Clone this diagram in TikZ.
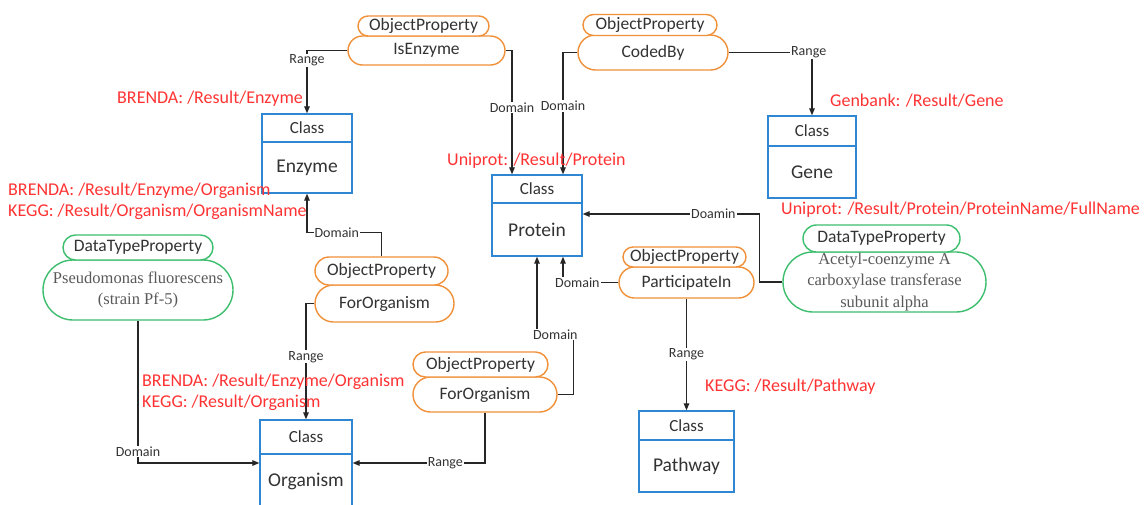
\documentclass[tikz,border=0pt]{standalone}
\usepackage{fontspec}
\setmainfont{Carlito}
\newfontfamily\serifface{Liberation Serif}
\usetikzlibrary{shapes.misc,arrows.meta}

\definecolor{clsblue}{HTML}{2F86D2}
\definecolor{oporange}{HTML}{F0913A}
\definecolor{dtgreen}{HTML}{3DBE6E}
\definecolor{pathred}{HTML}{FF3333}
\definecolor{ink}{HTML}{333333}

\tikzset{
  clshead/.style={draw=clsblue, line width=1.3pt, fill=white, inner sep=0pt,
    text=ink, font=\fontsize{17}{20}\selectfont},
  clsbody/.style={clshead, font=\fontsize{19.5}{23}\selectfont},
  oppill/.style={rounded rectangle, draw=oporange, line width=1.4pt, fill=white,
    inner sep=0pt, text=ink, font=\fontsize{17.5}{21}\selectfont},
  dtpill/.style={oppill, draw=dtgreen},
  seriftext/.style={font=\serifface\fontsize{16.5}{21.5}\selectfont,
    text=black!65, align=center},
  conn/.style={draw=black!85, line width=1.2pt, -{Triangle[length=7pt,width=5.5pt]}},
  lbl/.style={fill=white, inner sep=1pt, font=\fontsize{14}{16}\selectfont, text=ink},
  src/.style={font=\fontsize{18}{21}\selectfont, text=pathred, anchor=west, inner sep=0pt},
}

\begin{document}
\begin{tikzpicture}[x=1pt, y=-1pt]
\path[use as bounding box, fill=white] (0,0) rectangle (1148,504);
\clip (0,0) rectangle (1148,504);

% classes
\node[clshead, minimum width=90pt, minimum height=28pt] (enzh) at (307,128) {Class};
\node[clsbody, minimum width=90pt, minimum height=51pt] (enzb) at (307,167.5) {Enzyme};

\node[clshead, minimum width=90pt, minimum height=28pt] (proth) at (537,189) {Class};
\node[clsbody, minimum width=90pt, minimum height=53pt] (protb) at (537,229.5) {Protein};

\node[clshead, minimum width=88pt, minimum height=30pt] (geneh) at (812,131) {Class};
\node[clsbody, minimum width=88pt, minimum height=52pt] (geneb) at (812,172) {Gene};

\node[clshead, minimum width=92pt, minimum height=34pt] (orgh) at (306,437) {Class};
\node[clsbody, minimum width=92pt, minimum height=54pt] (orgb) at (306,481) {Organism};

\node[clshead, minimum width=95pt, minimum height=29pt] (pathh) at (686.5,425.5) {Class};
\node[clsbody, minimum width=95pt, minimum height=52pt] (pathb) at (686.5,466) {Pathway};

% object properties
\node[oppill, minimum width=157pt, minimum height=29pt] (isenz) at (426.5,50.5) {IsEnzyme};
\node[oppill, minimum width=131pt, minimum height=20pt] (isenzh) at (423.5,26) {ObjectProperty};

\node[oppill, minimum width=150pt, minimum height=35pt] (codedby) at (653,52.5) {CodedBy};
\node[oppill, minimum width=134pt, minimum height=21pt] (codedbyh) at (650,25) {ObjectProperty};

\node[oppill, minimum width=139pt, minimum height=37pt] (fo1m) at (384.5,303.5) {ForOrganism};
\node[oppill, minimum width=133pt, minimum height=28pt] (fo1h) at (381.5,271) {ObjectProperty};

\node[oppill, minimum width=144pt, minimum height=35pt] (fo2m) at (485,394.5) {ForOrganism};
\node[oppill, minimum width=135pt, minimum height=25pt] (fo2h) at (480.5,364.5) {ObjectProperty};

\node[oppill, minimum width=135pt, minimum height=31pt] (partm) at (686.5,282.5) {ParticipateIn};
\node[oppill, minimum width=123pt, minimum height=20pt] (parth) at (684.5,257) {ObjectProperty};

% datatype properties
\node[dtpill, minimum width=190pt, minimum height=60pt, seriftext] (pseudo) at (138,290)
  {Pseudomonas fluorescens\\(strain Pf-5)};
\node[dtpill, minimum width=150pt, minimum height=25pt] (pseudoh) at (138,247.5) {DataTypeProperty};

\node[dtpill, minimum width=203pt, minimum height=60pt, seriftext] (acm) at (884.5,282)
  {Acetyl-coenzyme A\\carboxylase transferase\\subunit alpha};
\node[dtpill, minimum width=157pt, minimum height=27pt] (ach) at (881.5,238.5) {DataTypeProperty};

% connectors
\draw[conn] (isenz.west) -| node[lbl,pos=0.58]{Range} (enzh.north);
\draw[conn] (isenz.east) -| node[lbl,pos=0.73]{Domain} ([xshift=-25pt]proth.north);
\draw[conn] (codedby.west) -| node[lbl,pos=0.72]{Domain} ([xshift=26pt]proth.north);
\draw[conn] (codedby.east) -| node[lbl,pos=0.48]{Range} (geneh.north);
\draw[conn] (fo1h.north) -- ++(0,-24) -| node[lbl,pos=0.3]{Domain} (enzb.south);
\draw[conn] (fo1m.west) -| node[lbl,pos=0.73]{Range} (orgh.north);
\draw[conn] (pseudo.south) |- node[lbl,pos=0.46]{Domain} ([yshift=18pt]orgb.west);
\draw[conn] (fo2m.south) |- node[lbl,pos=0.65]{Range} ([yshift=18pt]orgb.east);
\draw[conn] (fo2m.east) -- ++(16,0) -- ++(0,-60) -| node[lbl,pos=0.25]{Domain} (protb.south);
\draw[conn] (partm.west) -| node[lbl,pos=0.37]{Domain} ([xshift=26pt]protb.south);
\draw[conn] (partm.south) -- node[lbl]{Range} (pathh.north);
\draw[conn] (acm.west) -- ++(-23,0) |- node[lbl,pos=0.63]{Doamin} ([yshift=15.5pt]protb.east);

% source paths
\node[src] (s1) at (117,99) {BRENDA: /Result/Enzyme};
\node[src] (s2) at (8,191) {BRENDA: /Result/Enzyme/Organism};
\node[src] (s3) at (8,212) {KEGG: /Result/Organism/OrganismName};
\node[src] (s4) at (447,161) {Uniprot: /Result/Protein};
\node[src] (s5) at (830,101) {Genbank: /Result/Gene};
\node[src] (s6) at (781,210) {Uniprot: /Result/Protein/ProteinName/FullName};
\node[src] (s7) at (142,382) {BRENDA: /Result/Enzyme/Organism};
\node[src] (s8) at (142,403) {KEGG: /Result/Organism};
\node[src] (s9) at (705,387) {KEGG: /Result/Pathway};
\end{tikzpicture}
\end{document}
